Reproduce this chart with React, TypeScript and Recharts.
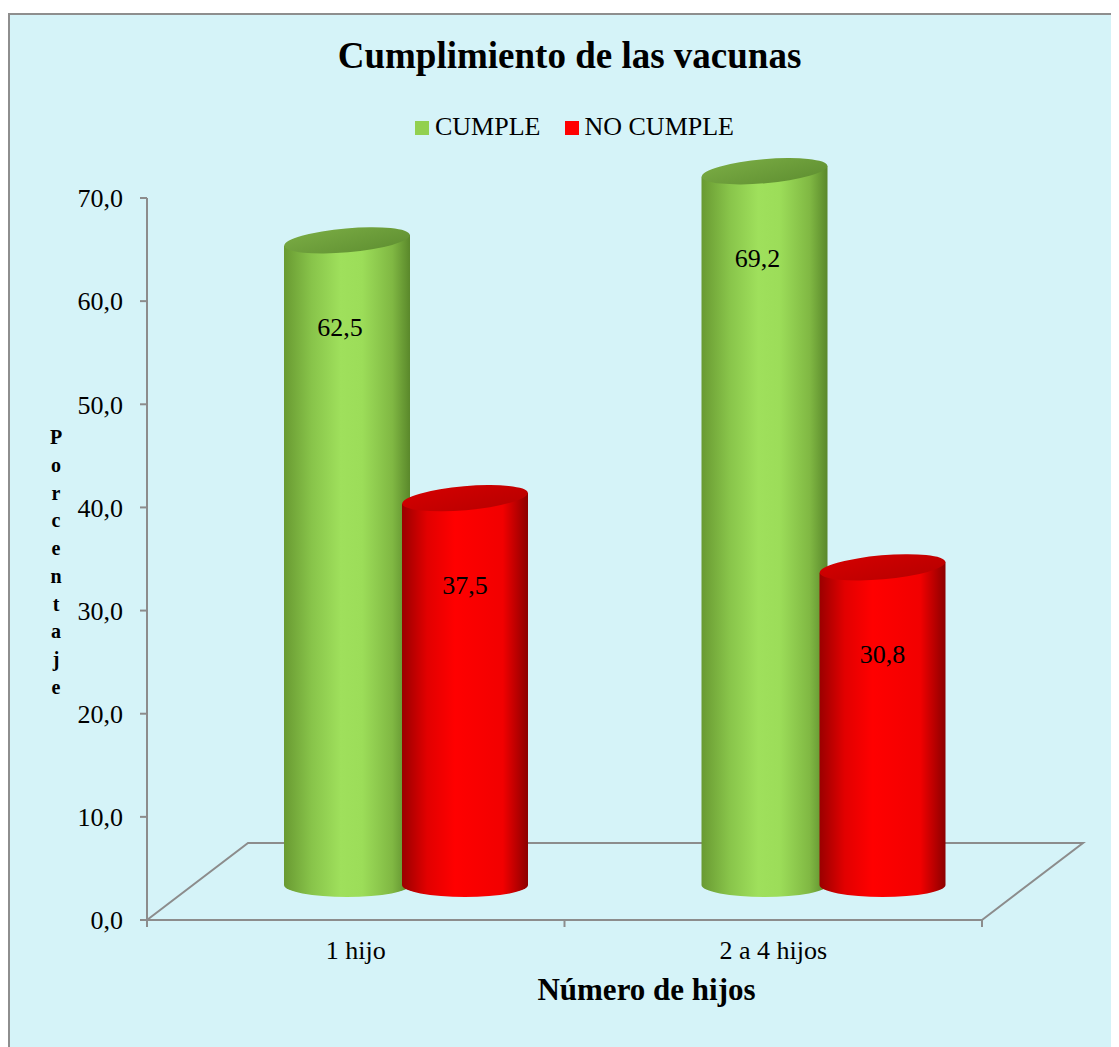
import * as React from "react";
import { BarChart, Bar, XAxis, YAxis, Legend, LabelList, Label } from "recharts";

// valores
const categories = ["1 hijo", "2 a 4 hijos"];
const cumple = [62.5, 69.2];
const noCumple = [37.5, 30.8];
const yTicks = [0, 10, 20, 30, 40, 50, 60, 70];
const seriesNames = ["CUMPLE", "NO CUMPLE"];
const seriesColors = ["#92d050", "#ff0000"];

const data = categories.map((c, i) => ({ name: c, cumple: cumple[i], noCumple: noCumple[i] }));

const FONT = "'Times New Roman', 'Liberation Serif', serif";
const AXIS_GRAY = "#8c8c8c";

// layout (relative to the chart svg)
const W = 1105;
const H = 1030;
const PLOT_LEFT = 137;
const PLOT_RIGHT = 972;
const PLOT_TOP = 183;
const PLOT_BOTTOM = 905;
const Y_AXIS_W = 60;
const X_AXIS_H = 30;

// fake 3d: floor depth and position of the bars inside it
const DEPTH_X = 101;
const DEPTH_Y = -77;
const DX = 50;
const DY = -35;
const RY = 12;
const TILT = -5;

const fmt = (v: number) => v.toFixed(1).replace(".", ",");

function Cylinder(props: any) {
  const { x, y, width, height, gradId, topId } = props;
  if (!width || height == null) return null;
  const rx = width / 2;
  const cx = x + rx + DX;
  const top = y + DY;
  const base = y + height + DY;
  const s = rx * Math.sin((TILT * Math.PI) / 180);
  return (
    <g>
      <path
        d={`M${cx - rx},${top - s} L${cx - rx},${base} A${rx},${RY} 0 0 0 ${cx + rx},${base} L${cx + rx},${top + s} Z`}
        fill={`url(#${gradId})`}
      />
      <ellipse cx={cx} cy={top} rx={rx} ry={RY} fill={`url(#${topId})`} transform={`rotate(${TILT} ${cx} ${top})`} />
    </g>
  );
}

// green labels sit on the visible (not covered) part of the cylinder
const makeValueLabel = (shift: number) => (props: any) => {
  const { x, y, width, value } = props;
  return (
    <text x={x + width / 2 + DX + shift} y={y + 61} textAnchor="middle" fontSize={26} fontFamily={FONT} fill="#000">
      {fmt(value)}
    </text>
  );
};

const LegendContent = () => (
  <div style={{ display: "flex", justifyContent: "center", alignItems: "baseline", fontFamily: FONT, fontSize: 26, lineHeight: "26px", paddingLeft: 24 }}>
    {seriesNames.map((n, i) => (
      <span key={n} style={{ display: "inline-flex", alignItems: "baseline", marginRight: i === 0 ? 25 : 0 }}>
        <span style={{ display: "inline-block", width: 14, height: 14, background: seriesColors[i], marginRight: i === 0 ? 6 : 5 }} />
        <span style={{ color: "#000" }}>{n}</span>
      </span>
    ))}
  </div>
);

const VerticalLabel = (props: any) => {
  const vb = props.viewBox || {};
  const letters = "Porcentaje".split("");
  const step = 27.7;
  const x = vb.x - 31;
  const first = vb.y + vb.height / 2 - 4.5 * step + 10;
  return (
    <text textAnchor="middle" fontFamily={FONT} fontSize={20} fontWeight="bold" fill="#000">
      {letters.map((l, i) => (
        <tspan key={i} x={x} y={first + i * step}>
          {l}
        </tspan>
      ))}
    </text>
  );
};

const XTitle = (props: any) => {
  const vb = props.viewBox || {};
  return (
    <text x={vb.x + vb.width / 2 + 82} y={985} textAnchor="middle" fontFamily={FONT} fontSize={31} fontWeight="bold" fill="#000">
      Número de hijos
    </text>
  );
};

function Floor() {
  const fl = PLOT_LEFT, fr = PLOT_RIGHT, fy = PLOT_BOTTOM;
  const pts = `${fl},${fy} ${fl + DEPTH_X},${fy + DEPTH_Y} ${fr + DEPTH_X},${fy + DEPTH_Y} ${fr},${fy}`;
  const mid = (fl + fr) / 2;
  return (
    <svg width={W} height={H} style={{ position: "absolute", left: 0, top: 0 }}>
      <polyline points={pts} fill="none" stroke={AXIS_GRAY} strokeWidth={2} />
      {[fl, mid, fr].map((tx) => (
        <line key={tx} x1={tx} y1={fy} x2={tx} y2={fy + 7} stroke={AXIS_GRAY} strokeWidth={2} />
      ))}
    </svg>
  );
}

export default function App() {
  return (
    <div
      style={{
        position: "relative",
        marginTop: 5,
        width: 1125,
        height: 1045,
        border: "2px solid #8e8e8e",
        background: "#d5f3f8",
        fontFamily: FONT,
      }}
    >
      <div
        style={{
          position: "absolute",
          left: 0,
          top: 22,
          width: 1119,
          textAlign: "center",
          fontSize: 37,
          lineHeight: "37px",
          fontWeight: "bold",
          color: "#000",
        }}
      >
        Cumplimiento de las vacunas
      </div>
      <div style={{ position: "absolute", left: 0, top: 0, width: W, height: H }}>
        <Floor />
        <div style={{ position: "absolute", left: 0, top: 0 }}>
          <BarChart
            width={W}
            height={H}
            data={data}
            margin={{ top: PLOT_TOP, left: PLOT_LEFT - Y_AXIS_W, right: W - PLOT_RIGHT, bottom: H - PLOT_BOTTOM - X_AXIS_H }}
            barSize={126}
            barGap={-8}
          >
            <defs>
              <linearGradient id="gBody" x1="0" y1="0" x2="1" y2="0">
                <stop offset="0%" stopColor="#699a32" />
                <stop offset="22%" stopColor="#88c44a" />
                <stop offset="45%" stopColor="#9fe05c" />
                <stop offset="62%" stopColor="#9cdd59" />
                <stop offset="86%" stopColor="#80b843" />
                <stop offset="100%" stopColor="#5a882b" />
              </linearGradient>
              <linearGradient id="gTop" x1="0" y1="0" x2="1" y2="1">
                <stop offset="0%" stopColor="#7aac44" />
                <stop offset="100%" stopColor="#5f8f31" />
              </linearGradient>
              <linearGradient id="rBody" x1="0" y1="0" x2="1" y2="0">
                <stop offset="0%" stopColor="#9a0000" />
                <stop offset="20%" stopColor="#e20000" />
                <stop offset="42%" stopColor="#ff0000" />
                <stop offset="80%" stopColor="#f20000" />
                <stop offset="100%" stopColor="#8c0000" />
              </linearGradient>
              <linearGradient id="rTop" x1="0" y1="0" x2="1" y2="1">
                <stop offset="0%" stopColor="#d40000" />
                <stop offset="100%" stopColor="#b80000" />
              </linearGradient>
            </defs>
            <XAxis
              dataKey="name"
              height={X_AXIS_H}
              axisLine={{ stroke: AXIS_GRAY, strokeWidth: 2 }}
              tickLine={false}
              tickMargin={15}
              tick={{ fontSize: 26, fill: "#000", fontFamily: FONT }}
            >
              <Label content={XTitle} />
            </XAxis>
            <YAxis
              width={Y_AXIS_W}
              domain={[0, 70]}
              ticks={yTicks}
              tickFormatter={fmt}
              tickSize={7}
              tickMargin={17}
              axisLine={{ stroke: AXIS_GRAY, strokeWidth: 2 }}
              tickLine={{ stroke: AXIS_GRAY, strokeWidth: 2 }}
              tick={{ fontSize: 26, fill: "#000", fontFamily: FONT }}
            >
              <Label content={VerticalLabel} />
            </YAxis>
            <Legend
              layout="horizontal"
              verticalAlign="middle"
              align="center"
              content={LegendContent}
              wrapperStyle={{ top: 99, left: 0, width: W }}
            />
            <Bar
              dataKey="cumple"
              name={seriesNames[0]}
              fill={seriesColors[0]}
              isAnimationActive={false}
              shape={(p: any) => <Cylinder {...p} gradId="gBody" topId="gTop" />}
            >
              <LabelList dataKey="cumple" content={makeValueLabel(-7)} />
            </Bar>
            <Bar
              dataKey="noCumple"
              name={seriesNames[1]}
              fill={seriesColors[1]}
              isAnimationActive={false}
              shape={(p: any) => <Cylinder {...p} gradId="rBody" topId="rTop" />}
            >
              <LabelList dataKey="noCumple" content={makeValueLabel(0)} />
            </Bar>
          </BarChart>
        </div>
      </div>
    </div>
  );
}
